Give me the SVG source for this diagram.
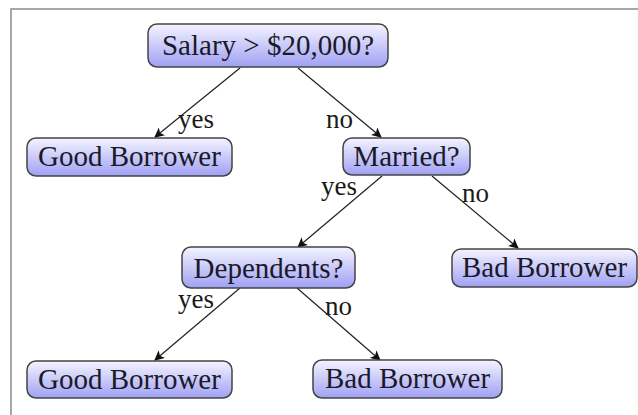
<svg xmlns="http://www.w3.org/2000/svg" width="638" height="415" viewBox="0 0 638 415">
<defs>
<linearGradient id="g" x1="0" y1="0" x2="0" y2="1">
<stop offset="0" stop-color="#f4f4ff"/>
<stop offset="1" stop-color="#a0a0f4"/>
</linearGradient>
<marker id="arr" viewBox="0 0 10 10" refX="9" refY="5" markerWidth="10" markerHeight="10" markerUnits="userSpaceOnUse" orient="auto">
<path d="M0,0 L10,5 L0,10 L2.5,5 Z" fill="#111"/>
</marker>
</defs>
<style>
.box{fill:url(#g);stroke:#444;stroke-width:1.5}
.t{font-family:Liberation Serif,serif !important;font-size:29px;fill:#1a1a2a;text-anchor:middle}
.l{font-family:Liberation Serif,serif !important;font-size:27px;fill:#1a1a1a}
.e{stroke:#222;stroke-width:1.2;fill:none;marker-end:url(#arr)}
</style>
<rect width="638" height="415" fill="#fff"/>
<path d="M11 415 V9 H638" fill="none" stroke="#8a8a8a" stroke-width="1.5"/>
<g id="edges">
<line class="e" x1="240" y1="68" x2="155" y2="137"/>
<line class="e" x1="298" y1="68" x2="381" y2="137"/>
<line class="e" x1="382" y1="176" x2="298" y2="247"/>
<line class="e" x1="432" y1="176" x2="518" y2="248"/>
<line class="e" x1="240" y1="288" x2="155" y2="360"/>
<line class="e" x1="297" y1="288" x2="380" y2="360"/>
<text class="l" font-family="Liberation Serif" x="178" y="128">yes</text>
<text class="l" font-family="Liberation Serif" x="326" y="128">no</text>
<text class="l" font-family="Liberation Serif" x="321" y="195">yes</text>
<text class="l" font-family="Liberation Serif" x="462" y="202">no</text>
<text class="l" font-family="Liberation Serif" x="178" y="308">yes</text>
<text class="l" font-family="Liberation Serif" x="325" y="315">no</text>
</g>
<g id="n-salary"><rect class="box" x="148" y="24" width="240" height="43" rx="9"/><text class="t" font-family="Liberation Serif" x="268" y="55">Salary &gt; $20,000?</text></g>
<g id="n-good1"><rect class="box" x="27" y="138" width="205" height="38" rx="9"/><text class="t" font-family="Liberation Serif" x="129.5" y="166">Good Borrower</text></g>
<g id="n-married"><rect class="box" x="343" y="138" width="127" height="37" rx="9"/><text class="t" font-family="Liberation Serif" x="406.5" y="166">Married?</text></g>
<g id="n-dependents"><rect class="box" x="182" y="247" width="173" height="41" rx="9"/><text class="t" font-family="Liberation Serif" x="268.5" y="278">Dependents?</text></g>
<g id="n-bad1"><rect class="box" x="452" y="249" width="185" height="38" rx="9"/><text class="t" font-family="Liberation Serif" x="544.5" y="277">Bad Borrower</text></g>
<g id="n-good2"><rect class="box" x="27" y="361" width="205" height="37" rx="9"/><text class="t" font-family="Liberation Serif" x="129.5" y="389">Good Borrower</text></g>
<g id="n-bad2"><rect class="box" x="313" y="360" width="189" height="38" rx="9"/><text class="t" font-family="Liberation Serif" x="407.5" y="388">Bad Borrower</text></g>
</svg>
